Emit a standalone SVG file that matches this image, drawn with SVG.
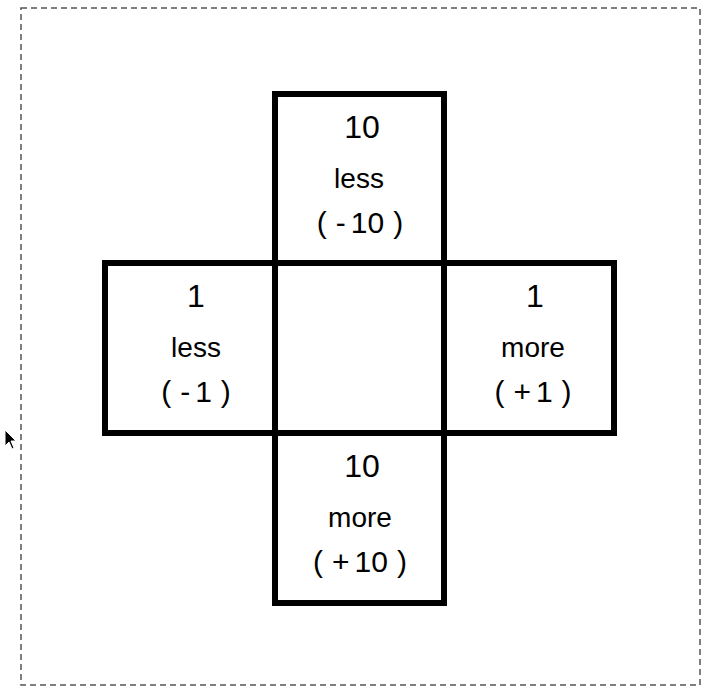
<svg xmlns="http://www.w3.org/2000/svg" width="710" height="686" viewBox="0 0 710 686">
  <style>
    .box { fill: #ffffff; stroke: #000000; stroke-width: 6; stroke-linejoin: miter; }
    .t1 { font-family: "Liberation Sans", Arial, sans-serif; font-size: 32px; fill: #000; text-anchor: middle; }
    .t2 { font-family: "Liberation Sans", Arial, sans-serif; font-size: 28px; fill: #000; text-anchor: middle; }
    .t3 { font-family: "Liberation Sans", Arial, sans-serif; font-size: 30px; fill: #000; text-anchor: middle; }
    .frame { fill: none; stroke: #555555; stroke-width: 1.5; stroke-dasharray: 6 4; }
  </style>
  <rect x="0" y="0" width="710" height="686" fill="#ffffff"/>
  <rect class="frame" x="21" y="8" width="679" height="677"/>

  <g id="center">
    <rect class="box" x="275" y="263" width="169" height="170"/>
  </g>
  <g id="top">
    <rect class="box" x="275" y="94" width="169" height="169"/>
    <text class="t1" x="362" y="138">10</text>
    <text class="t2" x="359" y="188">less</text>
    <text class="t3" x="360" y="233">(<tspan dx="9">-</tspan><tspan dx="5">10</tspan><tspan dx="9">)</tspan></text>
  </g>
  <g id="left">
    <rect class="box" x="105" y="263" width="170" height="170"/>
    <text class="t1" x="196" y="307">1</text>
    <text class="t2" x="196" y="357">less</text>
    <text class="t3" x="196" y="402">(<tspan dx="9">-</tspan><tspan dx="5">1</tspan><tspan dx="9">)</tspan></text>
  </g>
  <g id="right">
    <rect class="box" x="444" y="263" width="170" height="170"/>
    <text class="t1" x="535" y="307">1</text>
    <text class="t2" x="533" y="357">more</text>
    <text class="t3" x="533" y="402">(<tspan dx="9">+</tspan><tspan dx="5">1</tspan><tspan dx="9">)</tspan></text>
  </g>
  <g id="bottom">
    <rect class="box" x="275" y="433" width="169" height="170"/>
    <text class="t1" x="362" y="477">10</text>
    <text class="t2" x="360" y="527">more</text>
    <text class="t3" x="360" y="572">(<tspan dx="9">+</tspan><tspan dx="5">10</tspan><tspan dx="9">)</tspan></text>
  </g>
  <g id="connectors"></g>

  <g id="cursor">
    <polygon points="5,430 5,446 9,442 12,449 14,448 11,441 16,441" fill="#000" stroke="#fff" stroke-width="1"/>
  </g>
</svg>
